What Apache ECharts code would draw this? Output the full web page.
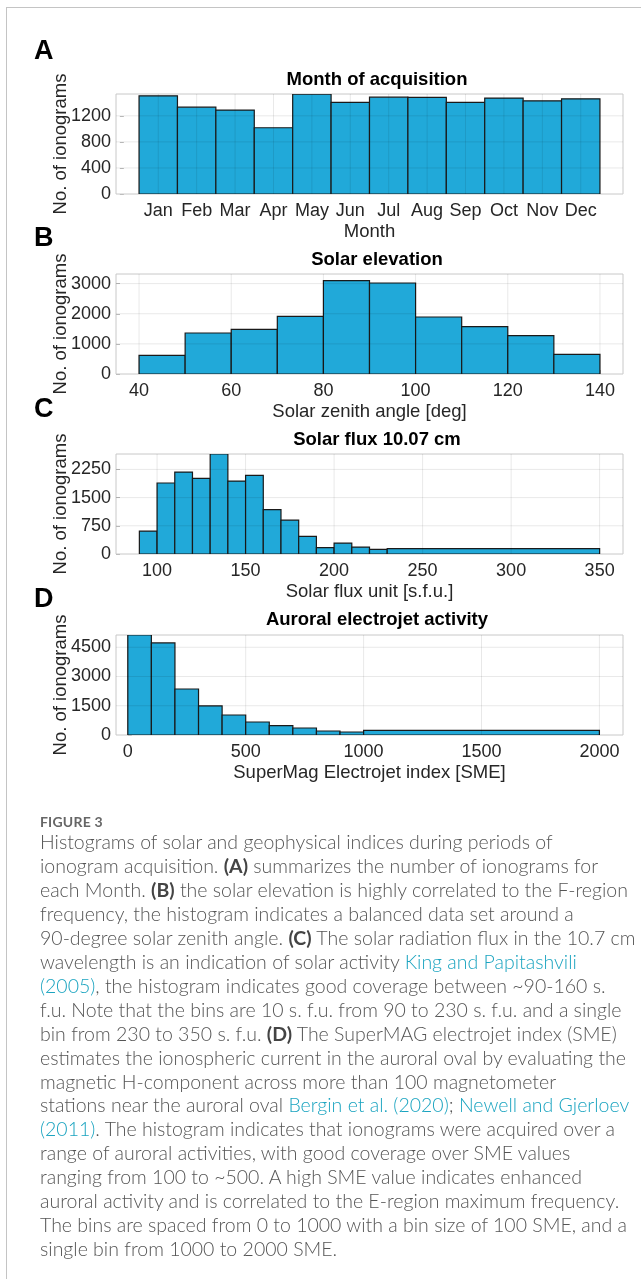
<!DOCTYPE html>
<html>
<head>
<meta charset="utf-8">
<script src="https://cdn.jsdelivr.net/npm/echarts@6/dist/echarts.min.js"></script>
<style>
html,body{margin:0;padding:0;background:#fff;}
body{width:641px;height:1279px;position:relative;overflow:hidden;}
#frame{position:absolute;left:6px;top:7px;width:700px;height:1400px;border-left:1px solid #c4c4c4;border-top:1px solid #c4c4c4;}
#chart{position:absolute;left:0;top:0;width:641px;height:800px;}
#caption{position:absolute;left:40px;top:0;width:600px;height:1279px;font-family:Lato,"Open Sans",sans-serif;font-weight:300;color:#555;}
#caption .ln{position:absolute;left:0;white-space:nowrap;height:24px;line-height:24px;}
#caption b{font-weight:700;color:#444;}
#caption a{color:#1ba4c0;text-decoration:none;}
#caption .fig{font-weight:700;color:#666;font-size:14px;letter-spacing:0.2px;}
</style>
</head>
<body>
<div id="frame"></div>
<div id="chart"></div>
<div id="caption"></div>
<script>
// ---------------- data ----------------
const monthNames = ['Jan','Feb','Mar','Apr','May','Jun','Jul','Aug','Sep','Oct','Nov','Dec'];
const monthCounts = [1507,1333,1288,1017,1532,1405,1487,1482,1405,1472,1431,1461];
const monthTicksY = [0,400,800,1200];

const zenithEdges = [40,50,60,70,80,90,100,110,120,130,140];
const zenithCounts = [620,1362,1483,1915,3100,3022,1893,1572,1273,653];
const zenithTicksX = [40,60,80,100,120,140];
const zenithTicksY = [0,1000,2000,3000];

const fluxEdges = [90,100,110,120,130,140,150,160,170,180,190,200,210,220,230,350];
const fluxCounts = [609,1888,2179,2011,2660,1940,2090,1182,900,468,168,291,185,123,141];
const fluxTicksX = [100,150,200,250,300,350];
const fluxTicksY = [0,750,1500,2250];

const smeEdges = [0,100,200,300,400,500,600,700,800,900,1000,2000];
const smeCounts = [5130,4722,2361,1489,1027,667,479,359,205,154,240];
const smeTicksX = [0,500,1000,1500,2000];
const smeTicksY = [0,1500,3000,4500];

const captionLines = [
 'Histograms of solar and geophysical indices during periods of',
 'ionogram acquisition. <b>(A)</b> summarizes the number of ionograms for',
 'each Month. <b>(B)</b> the solar elevation is highly correlated to the F-region',
 'frequency, the histogram indicates a balanced data set around a',
 '90-degree solar zenith angle. <b>(C)</b> The solar radiation flux in the 10.7 cm',
 'wavelength is an indication of solar activity <a>King and Papitashvili</a>',
 '<a>(2005)</a>, the histogram indicates good coverage between ~90-160 s.',
 'f.u. Note that the bins are 10 s. f.u. from 90 to 230 s. f.u. and a single',
 'bin from 230 to 350 s. f.u. <b>(D)</b> The SuperMAG electrojet index (SME)',
 'estimates the ionospheric current in the auroral oval by evaluating the',
 'magnetic H-component across more than 100 magnetometer',
 'stations near the auroral oval <a>Bergin et al. (2020)</a>; <a>Newell and Gjerloev</a>',
 '<a>(2011)</a>. The histogram indicates that ionograms were acquired over a',
 'range of auroral activities, with good coverage over SME values',
 'ranging from 100 to ~500. A high SME value indicates enhanced',
 'auroral activity and is correlated to the E-region maximum frequency.',
 'The bins are spaced from 0 to 1000 with a bin size of 100 SME, and a',
 'single bin from 1000 to 2000 SME.'
];

// ---------------- helpers ----------------
function binsFromEdges(edges, counts){
  return counts.map((c,i)=>[edges[i], edges[i+1], c]);
}
const monthBins = monthCounts.map((c,i)=>[i+0.5, i+1.5, c]);
const monthTicksX = monthNames.map((_,i)=>i+1);

const FONT = '"Liberation Sans", Arial, Helvetica, sans-serif';
const TXT = '#262626';
const BAR = '#21A9D9';
const EDGE = '#1a1a1a';

const panels = [
  {top:94, xMin:-0.1, xMax:13.1, yMax:1535, bins:monthBins, xTicks:monthTicksX, yTicks:monthTicksY,
   title:'Month of acquisition', xName:'Month', letter:'A', titleY:79.5, letterY:51.5,
   fmt: v => monthNames[Math.round(v)-1]},
  {top:274, xMin:35, xMax:145, yMax:3320, bins:binsFromEdges(zenithEdges,zenithCounts), xTicks:zenithTicksX, yTicks:zenithTicksY,
   title:'Solar elevation', xName:'Solar zenith angle [deg]', letter:'B', titleY:260, letterY:239},
  {top:454, xMin:76.8, xMax:363.2, yMax:2660, bins:binsFromEdges(fluxEdges,fluxCounts), xTicks:fluxTicksX, yTicks:fluxTicksY,
   title:'Solar flux 10.07 cm', xName:'Solar flux unit [s.f.u.]', letter:'C', titleY:439.5, letterY:410},
  {top:635, xMin:-50, xMax:2100, yMax:5130, bins:binsFromEdges(smeEdges,smeCounts), xTicks:smeTicksX, yTicks:smeTicksY,
   title:'Auroral electrojet activity', xName:'SuperMag Electrojet index [SME]', letter:'D', titleY:620, letterY:600}
];

const plain = v => String(v);
const grids=[], xAxes=[], yAxes=[], series=[], graphics=[];
panels.forEach((p,i)=>{
  grids.push({left:116, top:p.top, width:507, height:100, show:true, borderColor:'#c8c8c8', borderWidth:1,
              backgroundColor:'transparent', containLabel:false, outerBoundsMode:'none'});
  xAxes.push({gridIndex:i, type:'value', min:p.xMin, max:p.xMax,
    axisLine:{show:false},
    axisTick:{show:true, inside:true, length:4, customValues:p.xTicks, lineStyle:{color:'#bdbdbd'}},
    axisLabel:{customValues:p.xTicks, fontSize:18, color:TXT, fontFamily:FONT, margin:8,
               formatter: p.fmt ? p.fmt : plain},
    splitLine:{show:false},
    name:p.xName, nameLocation:'middle', nameGap:28, nameMoveOverlap:false,
    nameTextStyle:{fontSize:18.5, color:TXT, fontFamily:FONT}});
  yAxes.push({gridIndex:i, type:'value', min:0, max:p.yMax,
    axisLine:{show:false},
    axisTick:{show:true, inside:true, length:4, customValues:p.yTicks, lineStyle:{color:'#bdbdbd'}},
    axisLabel:{customValues:p.yTicks, fontSize:18, color:TXT, fontFamily:FONT, margin:5, formatter:plain},
    splitLine:{show:false},
    name:'No. of ionograms', nameLocation:'middle', nameRotate:90, nameGap:46, nameMoveOverlap:false,
    nameTextStyle:{fontSize:18.5, color:TXT, fontFamily:FONT}});
  // histogram bars
  series.push({type:'custom', xAxisIndex:i, yAxisIndex:i, clip:true, z:2,
    data:p.bins,
    renderItem:(params, api)=>{
      const a = api.coord([api.value(0), api.value(2)]);
      const b = api.coord([api.value(1), 0]);
      return {type:'rect', shape:{x:a[0], y:a[1], width:b[0]-a[0], height:b[1]-a[1]},
              style:{fill:BAR, stroke:EDGE, lineWidth:1.2}};
    }});
  // grid lines drawn above bars (vertical)
  series.push({type:'custom', xAxisIndex:i, yAxisIndex:i, clip:true, z:3, silent:true,
    data:p.xTicks.map(v=>[v,0]),
    renderItem:(params, api)=>{
      const cs = params.coordSys;
      const x = api.coord([api.value(0), 0])[0];
      return {type:'line', shape:{x1:x, y1:cs.y, x2:x, y2:cs.y+cs.height},
              style:{stroke:'rgba(0,0,0,0.09)', lineWidth:1}};
    }});
  // grid lines (horizontal)
  series.push({type:'custom', xAxisIndex:i, yAxisIndex:i, clip:true, z:3, silent:true,
    data:p.yTicks.filter(v=>v>0).map(v=>[p.xMin, v]),
    renderItem:(params, api)=>{
      const cs = params.coordSys;
      const y = api.coord([api.value(0), api.value(1)])[1];
      return {type:'line', shape:{x1:cs.x, y1:y, x2:cs.x+cs.width, y2:y},
              style:{stroke:'rgba(0,0,0,0.09)', lineWidth:1}};
    }});
  graphics.push({type:'text', x:377, y:p.titleY, z:10,
    style:{text:p.title, fontSize:18.5, fontWeight:'bold', fontFamily:FONT, fill:'#000', align:'center', verticalAlign:'middle'}});
  graphics.push({type:'text', x:34, y:p.letterY, z:10,
    style:{text:p.letter, fontSize:27, fontWeight:'bold', fontFamily:FONT, fill:'#000', align:'left', verticalAlign:'middle'}});
});

const chart = echarts.init(document.getElementById('chart'), null, {renderer:'canvas'});
chart.setOption({
  animation:false,
  backgroundColor:'transparent',
  grid:grids, xAxis:xAxes, yAxis:yAxes, series:series, graphic:graphics
});

// ---------------- caption ----------------
const cap = document.getElementById('caption');
const fig = document.createElement('div');
fig.className = 'ln fig';
fig.style.top = (821.7-12)+'px';
fig.textContent = 'FIGURE 3';
cap.appendChild(fig);
const lineEls = captionLines.map((html,k)=>{
  const d = document.createElement('div');
  d.className = 'ln';
  d.style.top = (841.7 + 23.98*k - 12)+'px';
  d.innerHTML = html;
  cap.appendChild(d);
  return d;
});
// fit caption font so the long reference line spans the same width as in the figure
cap.style.fontSize = '17px';
const w = lineEls[4].getBoundingClientRect().width;
cap.style.fontSize = (17*596/w).toFixed(2)+'px';
</script>
</body>
</html>
